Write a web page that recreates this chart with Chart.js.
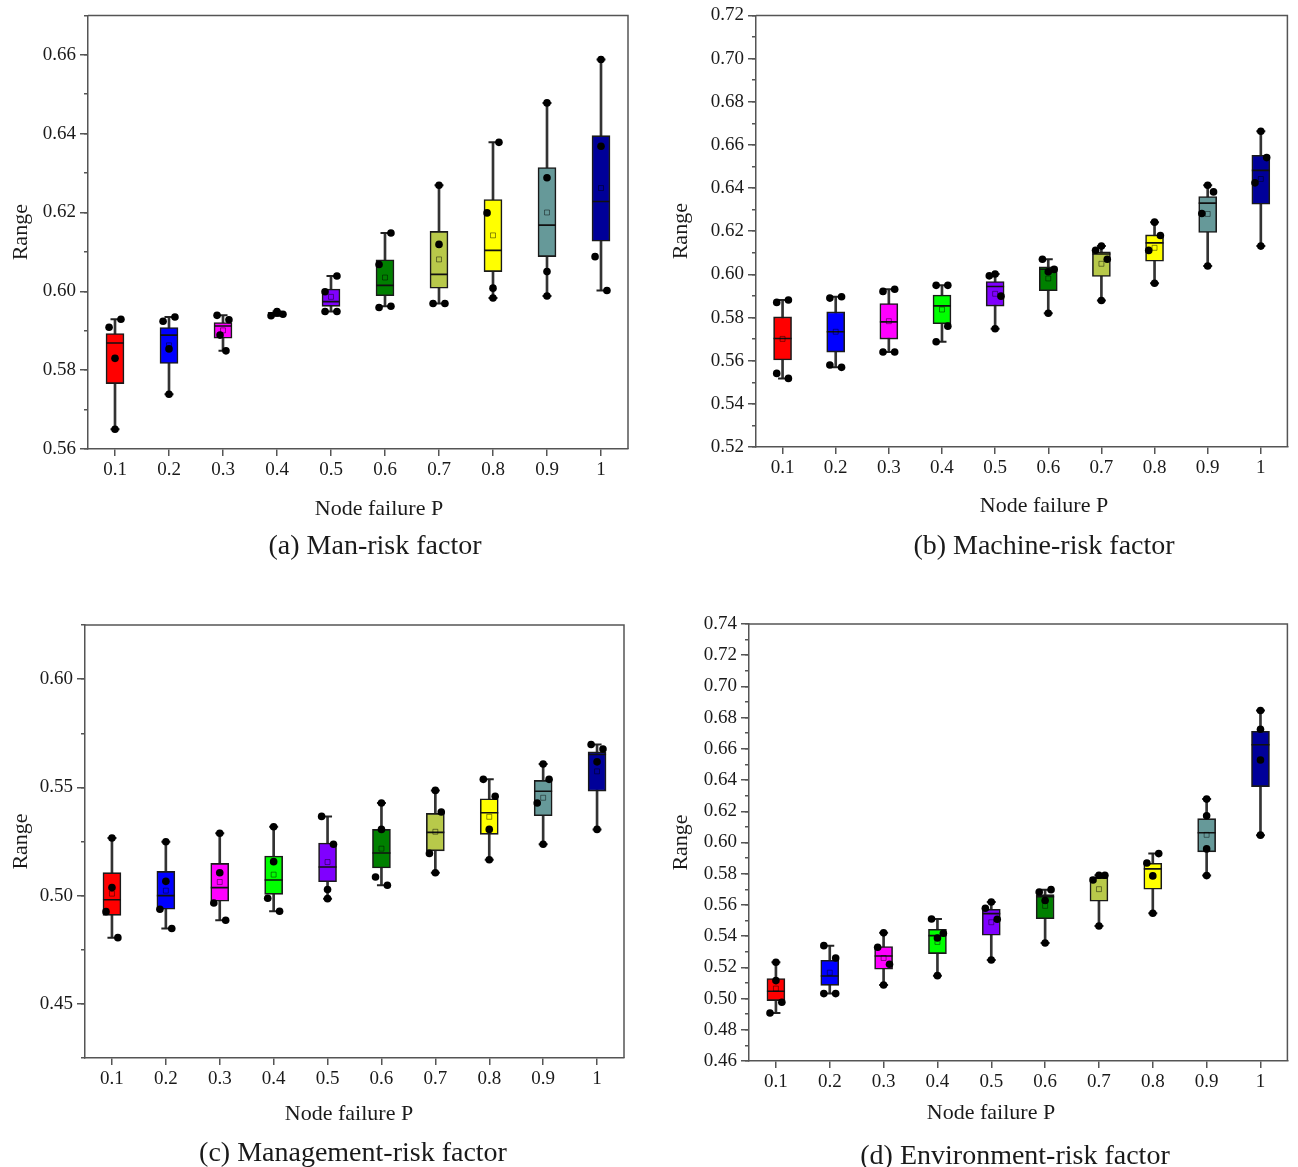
<!DOCTYPE html>
<html>
<head>
<meta charset="utf-8">
<script src="https://cdn.jsdelivr.net/npm/chart.js@4/dist/chart.umd.min.js"></script>
<style>
  body { margin: 0; background: #fff; width: 1298px; height: 1167px; position: relative; overflow: hidden; font-family: 'Liberation Serif', 'Times New Roman', serif; color: #1a1a1a; }
  .pane { position: absolute; }
  .lbl { position: absolute; transform: translate(-50%, -50%); white-space: nowrap; }
  .xt { font-size: 22px; }
  .cap { font-size: 28px; }
</style>
</head>
<body>
<div class="pane" style="left:0;top:0"><canvas id="cA" width="649" height="530"></canvas></div>
<div class="pane" style="left:660px;top:0"><canvas id="cB" width="638" height="530"></canvas></div>
<div class="pane" style="left:0;top:600px"><canvas id="cC" width="649" height="540"></canvas></div>
<div class="pane" style="left:660px;top:600px"><canvas id="cD" width="638" height="540"></canvas></div>

<div class="lbl xt" style="left:379px;top:508px">Node failure P</div>
<div class="lbl cap" style="left:375px;top:545px">(a) Man-risk factor</div>
<div class="lbl xt" style="left:1044px;top:505px">Node failure P</div>
<div class="lbl cap" style="left:1044px;top:545px">(b) Machine-risk factor</div>
<div class="lbl xt" style="left:349px;top:1113px">Node failure P</div>
<div class="lbl cap" style="left:353px;top:1152px">(c) Management-risk factor</div>
<div class="lbl xt" style="left:991px;top:1112px">Node failure P</div>
<div class="lbl cap" style="left:1015px;top:1155px">(d) Environment-risk factor</div>

<script>
// ---- dati ----
const categories = ['0.1', '0.2', '0.3', '0.4', '0.5', '0.6', '0.7', '0.8', '0.9', '1'];

// (a) Man-risk
const manTicks = [0.56, 0.58, 0.60, 0.62, 0.64, 0.66];
const manMax  = [0.5929, 0.5935, 0.5939, 0.5949, 0.6039, 0.6148, 0.6269, 0.6378, 0.6478, 0.6588];
const manQ3   = [0.5893, 0.5908, 0.5921, 0.5947, 0.6006, 0.6080, 0.6152, 0.6233, 0.6314, 0.6395];
const manMed  = [0.5869, 0.5889, 0.5912, 0.5943, 0.5974, 0.6015, 0.6043, 0.6104, 0.6168, 0.6228];
const manQ1   = [0.5766, 0.5817, 0.5881, 0.5940, 0.5962, 0.5989, 0.6008, 0.6050, 0.6088, 0.6127];
const manMin  = [0.5650, 0.5739, 0.5849, 0.5938, 0.5949, 0.5962, 0.5969, 0.5983, 0.5988, 0.6002];
const manMean = [0.5830, 0.5863, 0.5901, 0.5943, 0.5986, 0.6035, 0.6081, 0.6142, 0.6200, 0.6262];
const manPts  = [
  [0.5909, 0.5929, 0.5830, 0.5650], [0.5924, 0.5935, 0.5854, 0.5739], [0.5939, 0.5928, 0.5889, 0.5849],
  [0.5938, 0.5949, 0.5942, 0.5945], [0.6039, 0.5999, 0.5949, 0.5949], [0.6148, 0.6068, 0.5959, 0.5962],
  [0.6269, 0.6119, 0.5969, 0.5969], [0.6378, 0.6199, 0.6008, 0.5983], [0.6478, 0.6288, 0.6050, 0.5988],
  [0.6588, 0.6368, 0.6088, 0.6002]
];

// (b) Machine-risk
const macTicks = [0.52, 0.54, 0.56, 0.58, 0.60, 0.62, 0.64, 0.66, 0.68, 0.70, 0.72];
const macMax  = [0.5881, 0.5896, 0.5931, 0.5949, 0.6002, 0.6070, 0.6131, 0.6242, 0.6413, 0.6663];
const macQ3   = [0.5803, 0.5826, 0.5865, 0.5904, 0.5967, 0.6035, 0.6104, 0.6183, 0.6361, 0.6552];
const macMed  = [0.5703, 0.5734, 0.5780, 0.5854, 0.5944, 0.6024, 0.6094, 0.6146, 0.6330, 0.6482];
const macQ1   = [0.5603, 0.5640, 0.5700, 0.5771, 0.5853, 0.5924, 0.5990, 0.6061, 0.6194, 0.6325];
const macMin  = [0.5518, 0.5569, 0.5640, 0.5688, 0.5748, 0.5820, 0.5879, 0.5959, 0.6039, 0.6131];
const macMean = [0.5701, 0.5734, 0.5783, 0.5837, 0.5910, 0.5981, 0.6049, 0.6123, 0.6280, 0.6442];
const macPts  = [
  [0.5870, 0.5881, 0.5541, 0.5518], [0.5890, 0.5896, 0.5580, 0.5569], [0.5921, 0.5931, 0.5640, 0.5640],
  [0.5949, 0.5949, 0.5760, 0.5688], [0.5993, 0.6002, 0.5899, 0.5748], [0.6070, 0.6023, 0.6012, 0.5820],
  [0.6112, 0.6131, 0.6070, 0.5879], [0.6242, 0.6180, 0.6111, 0.5959], [0.6413, 0.6382, 0.6282, 0.6039],
  [0.6663, 0.6541, 0.6424, 0.6131]
];

// (c) Management-risk
const mgtTicks = [0.45, 0.50, 0.55, 0.60];
const mgtMax  = [0.5266, 0.5249, 0.5288, 0.5318, 0.5366, 0.5428, 0.5486, 0.5537, 0.5608, 0.5698];
const mgtQ3   = [0.5106, 0.5112, 0.5149, 0.5183, 0.5243, 0.5306, 0.5380, 0.5447, 0.5532, 0.5664];
const mgtMed  = [0.4981, 0.5000, 0.5037, 0.5072, 0.5132, 0.5197, 0.5292, 0.5383, 0.5482, 0.5652];
const mgtQ1   = [0.4909, 0.4937, 0.4974, 0.5006, 0.5064, 0.5128, 0.5207, 0.5283, 0.5369, 0.5483];
const mgtMin  = [0.4806, 0.4848, 0.4886, 0.4928, 0.4986, 0.5048, 0.5106, 0.5166, 0.5237, 0.5306];
const mgtMean = [0.5009, 0.5023, 0.5063, 0.5097, 0.5155, 0.5217, 0.5295, 0.5364, 0.5452, 0.5574];
const mgtPts  = [
  [0.5266, 0.5037, 0.4926, 0.4806], [0.5249, 0.5066, 0.4937, 0.4848], [0.5288, 0.5106, 0.4966, 0.4886],
  [0.5318, 0.5157, 0.4988, 0.4928], [0.5366, 0.5237, 0.5028, 0.4986], [0.5428, 0.5306, 0.5086, 0.5048],
  [0.5486, 0.5386, 0.5195, 0.5106], [0.5537, 0.5459, 0.5306, 0.5166], [0.5608, 0.5537, 0.5428, 0.5237],
  [0.5698, 0.5677, 0.5618, 0.5306]
];

// (d) Environment-risk
const envTicks = [0.46, 0.48, 0.50, 0.52, 0.54, 0.56, 0.58, 0.60, 0.62, 0.64, 0.66, 0.68, 0.70, 0.72, 0.74];
const envMax  = [0.5233, 0.5339, 0.5421, 0.5510, 0.5619, 0.5698, 0.5790, 0.5929, 0.6278, 0.6846];
const envQ3   = [0.5128, 0.5245, 0.5333, 0.5444, 0.5572, 0.5666, 0.5778, 0.5867, 0.6153, 0.6713];
const envMed  = [0.5047, 0.5145, 0.5273, 0.5403, 0.5544, 0.5653, 0.5772, 0.5831, 0.6062, 0.6626];
const envQ1   = [0.4987, 0.5085, 0.5188, 0.5288, 0.5406, 0.5512, 0.5624, 0.5701, 0.5940, 0.6358];
const envMin  = [0.4908, 0.5032, 0.5087, 0.5147, 0.5247, 0.5356, 0.5465, 0.5547, 0.5788, 0.6047];
const envMean = [0.5064, 0.5166, 0.5260, 0.5363, 0.5489, 0.5594, 0.5701, 0.5786, 0.6049, 0.6529];
const envPts  = [
  [0.5233, 0.5115, 0.4976, 0.4908], [0.5339, 0.5260, 0.5032, 0.5032], [0.5329, 0.5421, 0.5220, 0.5087],
  [0.5510, 0.5419, 0.5388, 0.5147], [0.5579, 0.5619, 0.5508, 0.5247], [0.5683, 0.5698, 0.5628, 0.5356],
  [0.5760, 0.5790, 0.5790, 0.5465], [0.5929, 0.5869, 0.5786, 0.5547], [0.6278, 0.6171, 0.5959, 0.5788],
  [0.6846, 0.6726, 0.6529, 0.6047]
];

// ---- stile: lato dei punti (-1 sx, 0 centro, 1 dx) e colori ----
const manSide = [[-1,1,0,0],[-1,1,0,0],[-1,1,-.5,.5],[-1,0,1,0],[1,-1,-1,1],[1,-1,-1,1],[0,0,-1,1],[1,-1,0,0],[0,0,0,0],[0,0,-1,1]];
const macSide = [[-1,1,-1,1],[-1,1,-1,1],[-1,1,-1,1],[-1,1,1,-1],[-1,0,1,0],[-1,1,0,0],[-1,0,1,0],[0,1,-1,0],[0,1,-1,0],[0,1,-1,0]];
const mgtSide = [[0,0,-1,1],[0,0,-1,1],[0,0,-1,1],[0,0,-1,1],[-1,1,0,0],[0,0,-1,1],[0,1,-1,0],[-1,1,0,0],[0,1,-1,0],[-1,1,0,0]];
const envSide = [[0,0,1,-1],[-1,1,-1,1],[-1,0,1,0],[-1,1,0,0],[-1,0,1,0],[-1,1,0,0],[-1,0,1,0],[1,-1,0,0],[0,0,0,0],[0,0,0,0]];

const BASE = ['#FF0000', '#0000FF', '#FF00FF', '#00FF00', '#8000FF', '#008000', '#B8C94A', '#FFFF00', '#669999', '#000099'];
const COL_A = BASE.map((c, i) => i === 3 ? '#F08C1E' : c);

Chart.defaults.font.family = "'Liberation Serif', 'Times New Roman', serif";
Chart.defaults.color = '#1a1a1a';

const AX = '#555';

// bordo superiore e destro del riquadro
const frame = { id: 'frame', afterDraw(c) {
  const { ctx, chartArea: a } = c;
  ctx.save(); ctx.strokeStyle = AX; ctx.lineWidth = 1.5;
  ctx.beginPath(); ctx.moveTo(a.left, a.top); ctx.lineTo(a.right, a.top); ctx.lineTo(a.right, a.bottom); ctx.stroke();
  ctx.restore();
}};

// tacche minori: passo fisso tra min e max
const minorTicks = (lo, hi, step) => {
  const out = [];
  for (let k = 0; lo + k * step <= hi + 1e-9; k++) out.push({ value: +(lo + k * step).toFixed(4) });
  return out;
};

// costruisce un box plot: baffi e scatole come barre flottanti, mediana/media/estremi come punti
function boxChart(id, p) {
  const n = categories.length;
  const dots = p.pts.flatMap((arr, i) => arr.map((v, k) => ({ x: i + p.side[i][k] * 0.11, y: v })));
  const line = (data, extra) => Object.assign({ type: 'line', data, showLine: false, xAxisID: 'x', yAxisID: 'y' }, extra);
  return new Chart(document.getElementById(id), {
    type: 'bar',
    data: { labels: categories, datasets: [
      { data: p.min.map((v, i) => [v, p.max[i]]), backgroundColor: '#333', barThickness: 2, grouped: false, order: 6, xAxisID: 'x', yAxisID: 'y' },
      { data: p.q1.map((v, i) => [v, p.q3[i]]), backgroundColor: p.colors, borderColor: '#1a1a1a', borderWidth: 1.6,
        borderSkipped: false, barThickness: 18, grouped: false, order: 5, xAxisID: 'x', yAxisID: 'y' },
      line(p.med,  { pointStyle: 'line', pointRadius: 9, pointBorderColor: '#111', pointBorderWidth: 1.6, order: 4 }),
      line(p.mean, { pointStyle: 'rect', pointRadius: 3.5, pointBackgroundColor: 'rgba(0,0,0,0)', pointBorderColor: 'rgba(0,0,0,0.45)', pointBorderWidth: 1, order: 3 }),
      line(p.max,  { pointStyle: 'line', pointRadius: 4.5, pointBorderColor: '#222', pointBorderWidth: 2, order: 2 }),
      line(p.min,  { pointStyle: 'line', pointRadius: 4.5, pointBorderColor: '#222', pointBorderWidth: 2, order: 2 }),
      { type: 'scatter', data: dots, xAxisID: 'xj', yAxisID: 'y', pointRadius: 3.8, pointBackgroundColor: '#000', pointBorderWidth: 0, order: 1 }
    ]},
    options: {
      responsive: false, animation: false, events: [], devicePixelRatio: 1,
      layout: { padding: p.pad },
      plugins: { legend: { display: false }, tooltip: { enabled: false } },
      scales: {
        x: { type: 'category', offset: true, afterFit: s => { s.height = 40; },
          grid: { offset: false, drawOnChartArea: false, tickLength: 7, color: AX, lineWidth: 1.5 },
          border: { color: AX, width: 1.5 },
          ticks: { font: { size: 19 }, color: '#1a1a1a', padding: 3, maxRotation: 0 } },
        xj: { type: 'linear', display: false, offset: false, min: -0.5, max: n - 0.5 },
        y: { type: 'linear', position: 'left', weight: 1, min: p.yMin, max: p.yMax,
          afterFit: s => { s.width = p.yW; },
          afterBuildTicks: s => { s.ticks = p.ticks.map(v => ({ value: v })); },
          grid: { drawOnChartArea: false, tickLength: 8, color: AX, lineWidth: 1.5 },
          border: { color: AX, width: 1.5 },
          ticks: { font: { size: 19 }, color: '#1a1a1a', padding: 4, callback: v => v.toFixed(2) },
          title: { display: true, text: 'Range', font: { size: 22 }, color: '#1a1a1a', padding: { top: 8, bottom: 0 } } },
        ym: { type: 'linear', position: 'left', weight: 0, min: p.yMin, max: p.yMax,
          afterFit: s => { s.width = 0; },
          afterBuildTicks: s => { s.ticks = minorTicks(p.yMin, p.yMax, p.minor); },
          grid: { drawOnChartArea: false, tickLength: 4, color: AX, lineWidth: 1.5 },
          border: { display: false },
          ticks: { display: false } }
      }
    },
    plugins: [frame]
  });
}

boxChart('cA', { min: manMin, q1: manQ1, med: manMed, q3: manQ3, max: manMax, mean: manMean, pts: manPts, side: manSide, ticks: manTicks,
  colors: COL_A, yMin: 0.56, yMax: 0.67, minor: 0.01, yW: 88, pad: { left: 0, top: 15, right: 21, bottom: 41 } });
boxChart('cB', { min: macMin, q1: macQ1, med: macMed, q3: macQ3, max: macMax, mean: macMean, pts: macPts, side: macSide, ticks: macTicks,
  colors: BASE, yMin: 0.52, yMax: 0.72, minor: 0.01, yW: 96, pad: { left: 0, top: 15, right: 5, bottom: 43 } });
boxChart('cC', { min: mgtMin, q1: mgtQ1, med: mgtMed, q3: mgtQ3, max: mgtMax, mean: mgtMean, pts: mgtPts, side: mgtSide, ticks: mgtTicks,
  colors: BASE, yMin: 0.425, yMax: 0.625, minor: 0.025, yW: 85, pad: { left: 0, top: 25, right: 25, bottom: 42 } });
boxChart('cD', { min: envMin, q1: envQ1, med: envMed, q3: envQ3, max: envMax, mean: envMean, pts: envPts, side: envSide, ticks: envTicks,
  colors: BASE, yMin: 0.46, yMax: 0.74, minor: 0.01, yW: 89, pad: { left: 0, top: 24, right: 7, bottom: 39 } });
</script>
</body>
</html>
